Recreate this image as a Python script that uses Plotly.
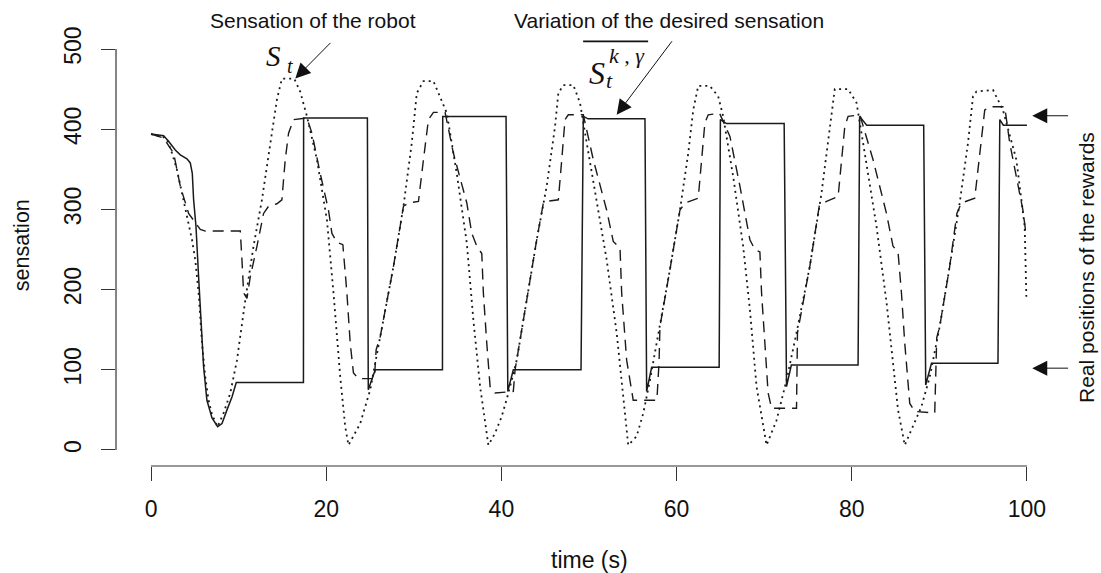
import plotly.graph_objects as go

# Desired sensation (solid step signal)
desired_t = [0.0, 1.44, 2.0, 2.77, 3.34, 4.1, 4.48, 4.71, 4.86, 5.13, 5.43, 5.7, 6.0, 6.38, 6.96,
             7.6, 8.1, 8.67, 9.24, 9.73, 17.4, 17.42, 24.7, 24.8, 25.6, 33.27, 33.3, 40.53, 40.73,
             41.36, 49.09, 49.35, 49.9, 56.39, 56.58, 57.15, 64.86, 65.0, 65.7, 72.28, 72.55, 73.1,
             80.72, 80.9, 81.7, 88.21, 88.44, 89.1, 96.69, 96.9, 97.3, 100.0]
desired_v = [394, 392, 385, 374, 368, 363, 358, 345, 312, 279, 216, 154, 104, 62, 40,
             29, 33, 50, 66, 84, 84, 414, 414, 75, 100, 100, 416, 416, 73,
             100, 100, 416, 413, 413, 73, 103, 103, 412, 407, 407, 79, 106,
             106, 416, 405, 405, 81, 108, 108, 412, 405, 405]

# Sensation of the robot (dotted)
sensation_t = [0.0, 1.44, 1.83, 2.4, 2.97, 3.54, 4.1, 4.68, 5.05, 5.43, 5.82, 6.19, 6.57, 6.96, 7.6,
               8.28, 9.05, 9.81, 10.76, 11.7, 12.66, 13.6, 14.37, 14.94, 16.35, 17.03, 17.8, 18.94,
               20.08, 20.83, 21.6, 22.17, 22.54, 23.88, 25.02, 26.16, 27.68, 28.82, 29.77, 30.34,
               31.1, 32.24, 33.0, 33.77, 34.9, 36.05, 36.8, 37.57, 38.51, 39.28, 40.04, 40.8, 41.75,
               42.89, 44.03, 45.17, 46.12, 46.5, 47.07, 48.21, 48.97, 49.74, 50.88, 52.02, 53.16,
               53.91, 54.48, 55.44, 56.2, 56.96, 58.1, 59.24, 60.38, 61.33, 61.9, 62.47, 63.8, 64.75,
               65.32, 66.46, 67.6, 68.37, 69.13, 70.27, 71.41, 72.55, 73.69, 75.21, 76.54, 77.49,
               78.06, 79.58, 80.54, 81.29, 82.82, 83.96, 84.71, 85.28, 86.05, 87.0, 87.95, 88.9,
               90.04, 91.18, 92.32, 93.27, 93.84, 94.23, 96.12, 97.26, 98.79, 99.74, 99.93]
sensation_v = [394, 390, 387, 370, 349, 320, 291, 262, 237, 196, 133, 91, 62, 44, 29,
               46, 71, 112, 187, 254, 312, 383, 437, 463, 463, 447, 416, 362,
               287, 196, 91, 29, 6, 33, 75, 141, 229, 304, 383, 445,
               460, 460, 441, 420, 345, 258, 162, 79, 6, 21, 42, 71, 112,
               187, 262, 329, 403, 445, 455, 455, 433, 383, 312, 237, 146,
               71, 6, 17, 46, 87, 154, 225, 299, 370, 424, 454, 454, 441,
               416, 341, 254, 175, 79, 6, 37, 87, 146, 229, 320, 403,
               450, 450, 433, 383, 279, 185, 112, 50, 6, 29, 54, 91,
               154, 229, 308, 383, 441, 447, 449, 424, 362, 279, 191]

# Variation of the desired sensation (dashed)
variation_t = [0.0, 1.44, 2.58, 3.34, 4.29, 5.05, 5.62, 6.2, 10.19, 10.38, 10.57, 10.95, 11.33, 12.09,
               12.85, 13.42, 14.37, 14.94, 15.32, 15.7, 16.27, 17.8, 18.37, 19.31, 20.26, 20.65,
               21.22, 21.9, 22.36, 22.74, 23.11, 23.68, 25.5, 25.7, 26.16, 27.68, 28.82, 29.39,
               30.53, 31.1, 31.67, 32.24, 33.57, 34.52, 36.05, 36.62, 37.19, 37.76, 37.94, 38.33,
               38.71, 39.28, 41.36, 41.56, 41.75, 42.89, 44.03, 44.79, 45.17, 46.5, 46.89, 47.26,
               47.64, 49.35, 50.49, 52.02, 52.77, 53.54, 53.73, 54.3, 55.05, 57.75, 58.0, 58.1,
               59.24, 60.38, 60.95, 62.47, 62.86, 63.23, 63.61, 64.9, 66.09, 67.23, 68.37, 68.94,
               69.51, 69.7, 70.08, 70.45, 70.84, 73.69, 73.8, 75.21, 76.3, 77.12, 78.44, 78.83,
               79.2, 79.58, 80.92, 82.43, 83.96, 84.71, 85.28, 85.67, 86.05, 86.62, 87.19, 89.47,
               89.7, 90.04, 91.18, 92.0, 92.51, 94.04, 94.61, 95.18, 95.75, 97.46, 98.03, 98.98,
               99.54, 99.93]
variation_v = [394, 389, 370, 329, 295, 283, 275, 273, 273, 237, 196, 189, 216, 254,
               295, 304, 307, 312, 362, 395, 412, 414, 395, 345, 299, 270,
               259, 256, 196, 133, 96, 89, 89, 125, 141, 229, 304, 308,
               310, 362, 412, 421, 421, 370, 308, 270, 254, 245, 196, 133,
               79, 71, 73, 100, 112, 187, 262, 308, 310, 312, 362, 412,
               418, 418, 362, 299, 260, 252, 196, 112, 62, 62, 110, 154,
               225, 299, 308, 314, 362, 408, 418, 420, 391, 329, 262, 250,
               247, 196, 133, 71, 52, 52, 146, 229, 305, 310, 316, 362,
               403, 416, 418, 362, 295, 254, 247, 196, 133, 58, 48, 46,
               140, 154, 229, 295, 308, 314, 370, 424, 428, 428, 383, 329,
               299, 266]

x_ticks = [0, 20, 40, 60, 80, 100]
y_ticks = [0, 100, 200, 300, 400, 500]

INK = "#1a1a1a"
SANS = "Liberation Sans, Arial, Helvetica, sans-serif"
SERIF = "Liberation Serif, Times New Roman, serif"

fig = go.Figure()
fig.add_trace(go.Scatter(x=sensation_t, y=sensation_v, mode="lines",
                         line=dict(color=INK, width=1.8, dash="2px,4px")))
fig.add_trace(go.Scatter(x=variation_t, y=variation_v, mode="lines",
                         line=dict(color=INK, width=1.4, dash="11px,7px")))
fig.add_trace(go.Scatter(x=desired_t, y=desired_v, mode="lines",
                         line=dict(color=INK, width=1.5)))

axis_common = dict(showgrid=False, zeroline=False, showline=False, ticks="outside",
                   ticklen=14, tickwidth=1.2, tickcolor="#333",
                   tickfont=dict(family=SANS, size=23, color="#111"))
fig.update_xaxes(range=[-4, 104], tickvals=x_ticks, ticktext=[str(v) for v in x_ticks],
                 ticklabelstandoff=8, **axis_common)
fig.update_yaxes(range=[-20, 520], tickvals=y_ticks, ticktext=[str(v) for v in y_ticks],
                 tickangle=-90, ticklabelstandoff=11, **axis_common)

# Axis lines spanning only the tick range
fig.add_shape(type="line", xref="x", yref="paper", x0=0, x1=100, y0=0, y1=0,
              line=dict(color="#333", width=1.2))
fig.add_shape(type="line", xref="paper", yref="y", x0=0, x1=0, y0=0, y1=500,
              line=dict(color="#333", width=1.2))

txt = dict(showarrow=False, xanchor="center", yanchor="middle")
ann = []
# Axis titles
ann.append(dict(text="time (s)", xref="x", yref="paper", x=50, y=-0.216,
                font=dict(family=SANS, size=23, color="#111"), **txt))
ann.append(dict(text="sensation", xref="paper", yref="paper", x=-0.0999, y=0.511,
                textangle=-90, font=dict(family=SANS, size=21.5, color="#111"), **txt))
ann.append(dict(text="Real positions of the rewards", xref="paper", yref="paper",
                x=1.026, y=0.4587, textangle=-90,
                font=dict(family=SANS, size=21, color="#111"), **txt))

# Labels above the curves
ann.append(dict(text="Sensation of the robot", xref="paper", yref="paper", x=0.2085, y=1.0284,
                font=dict(family=SANS, size=21, color="#111"), **txt))
ann.append(dict(text="Variation of the desired sensation", xref="paper", yref="paper",
                x=0.5845, y=1.0284, font=dict(family=SANS, size=21, color="#111"), **txt))

# S_t
ann.append(dict(text="<i>S</i>", xref="x", yref="y", x=13.96, y=491.6,
                font=dict(family=SERIF, size=29, color="#111"), **txt))
ann.append(dict(text="<i>t</i>", xref="x", yref="y", x=15.9, y=478.5,
                font=dict(family=SERIF, size=20, color="#111"), **txt))
# overlined S_t^{k,gamma}
ann.append(dict(text="<i>S</i>", xref="x", yref="y", x=50.91, y=470.4,
                font=dict(family=SERIF, size=32, color="#111"), **txt))
ann.append(dict(text="<i>t</i>", xref="x", yref="y", x=52.31, y=460.4,
                font=dict(family=SERIF, size=22, color="#111"), **txt))
ann.append(dict(text="<i>k , γ</i>", xref="x", yref="y", x=54.34, y=491.6,
                font=dict(family=SERIF, size=22, color="#111"), **txt))
fig.add_shape(type="line", xref="x", yref="y", x0=49.33, x1=56.75, y0=509.5, y1=509.5,
              line=dict(color="#111", width=1.6))

# Pointer arrows
arrow_common = dict(text="", showarrow=True, arrowhead=2, arrowsize=3, arrowwidth=1,
                    arrowcolor="#111", axref="x", ayref="y", xref="x", yref="y")
ann.append(dict(x=16.47, y=463.4, ax=20.65, ay=509.5, **arrow_common))
ann.append(dict(x=53.16, y=418, ax=59.6, ay=511.6, **arrow_common))
ann.append(dict(x=100.6, y=416.8, ax=104.87, ay=416.8, **arrow_common))
ann.append(dict(x=100.6, y=102, ax=104.87, ay=102, **arrow_common))

fig.update_layout(width=1101, height=573, showlegend=False,
                  margin=dict(l=115.6, r=38.6, t=33.3, b=107, pad=0),
                  paper_bgcolor="white", plot_bgcolor="white",
                  annotations=ann)

fig.write_html("out.html")
